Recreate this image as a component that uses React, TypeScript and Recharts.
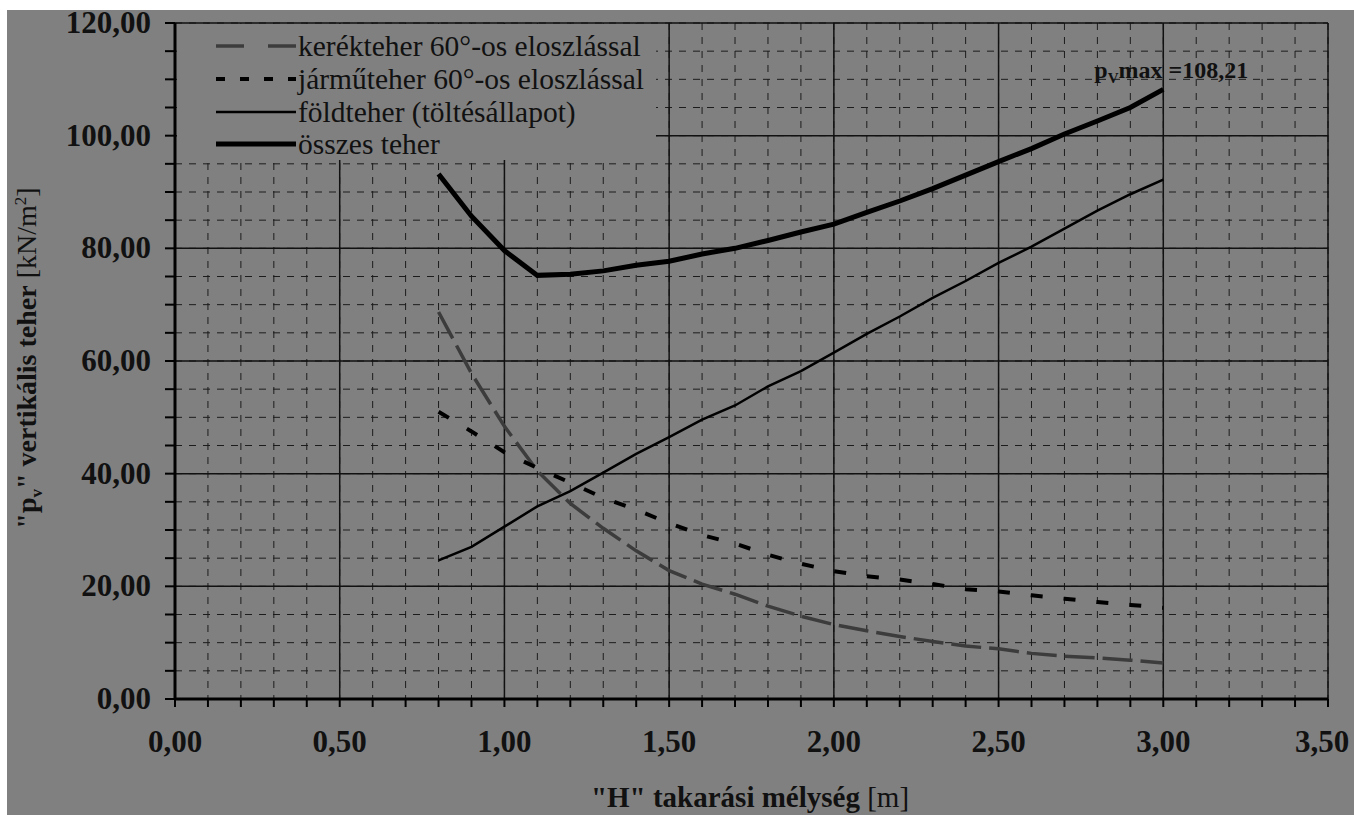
import { CartesianGrid, Legend, Line, LineChart, ReferenceDot, XAxis, YAxis } from "recharts";

const H = [0.8, 0.9, 1.0, 1.1, 1.2, 1.3, 1.4, 1.5, 1.6, 1.7, 1.8, 1.9, 2.0, 2.1, 2.2, 2.3, 2.4, 2.5, 2.6, 2.7, 2.8, 2.9, 3.0];
const KEREK = [68.7, 57.8, 48.4, 40.5, 34.7, 30.3, 26.3, 22.8, 20.4, 18.6, 16.5, 14.7, 13.2, 12.1, 11.1, 10.2, 9.4, 8.9, 8.1, 7.6, 7.3, 6.9, 6.4];
const JARMU = [51.0, 47.5, 43.8, 41.0, 38.4, 35.7, 33.6, 31.2, 29.1, 27.6, 25.6, 24.0, 22.7, 21.8, 21.2, 20.4, 19.5, 19.1, 18.4, 17.8, 17.2, 16.7, 16.2];
const FOLD = [24.6, 27.0, 30.6, 34.2, 36.9, 40.2, 43.5, 46.5, 49.6, 52.1, 55.5, 58.2, 61.5, 64.8, 67.9, 71.2, 74.2, 77.4, 80.3, 83.5, 86.7, 89.6, 92.2];
const OSSZES = [93.2, 85.7, 79.6, 75.2, 75.4, 76.0, 77.0, 77.7, 79.0, 80.0, 81.4, 82.9, 84.3, 86.4, 88.4, 90.6, 93.0, 95.4, 97.7, 100.3, 102.6, 105.0, 108.21];

const X_TICKS = [0, 0.1, 0.2, 0.3, 0.4, 0.5, 0.6, 0.7, 0.8, 0.9, 1.0, 1.1, 1.2, 1.3, 1.4, 1.5, 1.6, 1.7, 1.8, 1.9, 2.0, 2.1, 2.2, 2.3, 2.4, 2.5, 2.6, 2.7, 2.8, 2.9, 3.0, 3.1, 3.2, 3.3, 3.4, 3.5];
const X_MAJOR = [0, 0.5, 1.0, 1.5, 2.0, 2.5, 3.0, 3.5];
const Y_TICKS = [0, 5, 10, 15, 20, 25, 30, 35, 40, 45, 50, 55, 60, 65, 70, 75, 80, 85, 90, 95, 100, 105, 110, 115, 120];
const Y_MAJOR = [0, 20, 40, 60, 80, 100, 120];

const SERIES = [
  { key: "kerek", name: "kerékteher 60°-os eloszlással", color: "#3c3c3c", width: 3.5, dash: "30 8", legendDash: "28 24" },
  { key: "jarmu", name: "járműteher 60°-os eloszlással", color: "#000", width: 4, dash: "12 21", legendDash: "9 15" },
  { key: "fold", name: "földteher (töltésállapot)", color: "#000", width: 2.5, dash: undefined, legendDash: undefined },
  { key: "osszes", name: "összes teher", color: "#000", width: 5, dash: undefined, legendDash: undefined },
];

const rows = H.map((h, i) => ({ h, kerek: KEREK[i], jarmu: JARMU[i], fold: FOLD[i], osszes: OSSZES[i] }));

const FONT = '"Liberation Serif", "Times New Roman", serif';
const BG = "#808080";
const INK = "#111";

const fmt = (v: number) => v.toFixed(2).replace(".", ",");

function XTick({ x, y, payload }: any) {
  const v = payload.value;
  if (Math.abs(v * 2 - Math.round(v * 2)) > 1e-6) return null;
  const shift = v >= 3.5 ? -6 : 0;
  return (
    <text x={x + shift} y={y + 43} textAnchor="middle" fontFamily={FONT} fontWeight="bold" fontSize={31} fill={INK}>
      {fmt(v)}
    </text>
  );
}

function YTick({ x, y, payload }: any) {
  const v = payload.value;
  if (v % 20 !== 0) return null;
  return (
    <text x={x} y={y + 10} textAnchor="end" fontFamily={FONT} fontWeight="bold" fontSize={31} fill={INK}>
      {fmt(v)}
    </text>
  );
}

function LoadLegend() {
  return (
    <div style={{ background: BG, width: 479, height: 136, paddingTop: 6, boxSizing: "border-box" }}>
      {SERIES.map((s) => (
        <div key={s.key} style={{ display: "flex", alignItems: "center", height: 32.7 }}>
          <svg width={80} height={10} style={{ marginLeft: 39, marginRight: 2, flex: "none" }}>
            <line x1={0} y1={5} x2={80} y2={5} stroke={s.color} strokeWidth={s.width} strokeDasharray={s.legendDash} />
          </svg>
          <span style={{ fontFamily: FONT, fontSize: 29.5, lineHeight: "30px", color: INK, whiteSpace: "nowrap" }}>
            {s.name}
          </span>
        </div>
      ))}
    </div>
  );
}

function MaxLabel({ cx, cy }: any) {
  return (
    <text x={cx - 69} y={cy - 11} fontFamily={FONT} fontWeight="bold" fontSize={24} fill={INK}>
      p<tspan fontSize={15} dy={5}>V</tspan>
      <tspan dy={-5}>max =</tspan>
      {fmt(OSSZES[OSSZES.length - 1])}
    </text>
  );
}

export default function App() {
  return (
    <div style={{ position: "absolute", left: 0, top: 0, width: 1354, height: 815, background: "#fff" }}>
      <div style={{ position: "absolute", left: 7, top: 10, right: 0, bottom: 0, background: BG }} />
      <div style={{ position: "absolute", left: 0, top: 0 }}>
        <LineChart width={1354} height={815} data={rows} margin={{ top: 23, right: 26, bottom: 0, left: 0 }}>
          <CartesianGrid
            horizontalValues={Y_TICKS}
            verticalValues={X_TICKS}
            stroke="#1c1c1c"
            strokeWidth={1}
            strokeDasharray="7 7"
          />
          <CartesianGrid horizontalValues={Y_MAJOR} verticalValues={X_MAJOR} stroke="#111" strokeWidth={1.5} />
          <XAxis
            type="number"
            dataKey="h"
            domain={[0, 3.5]}
            ticks={X_TICKS}
            interval={0}
            height={116}
            tickSize={8}
            tickMargin={2}
            axisLine={{ stroke: "#000", strokeWidth: 3 }}
            tickLine={{ stroke: "#000", strokeWidth: 2 }}
            tick={<XTick />}
          />
          <YAxis
            type="number"
            domain={[0, 120]}
            ticks={Y_TICKS}
            interval={0}
            width={175}
            tickSize={10}
            tickMargin={14}
            axisLine={{ stroke: "#000", strokeWidth: 3 }}
            tickLine={{ stroke: "#000", strokeWidth: 2 }}
            tick={<YTick />}
          />
          {SERIES.map((s) => (
            <Line
              key={s.key}
              dataKey={s.key}
              name={s.name}
              type="linear"
              stroke={s.color}
              strokeWidth={s.width}
              strokeDasharray={s.dash}
              dot={false}
              activeDot={false}
              isAnimationActive={false}
            />
          ))}
          <ReferenceDot x={H[H.length - 1]} y={OSSZES[OSSZES.length - 1]} r={0} shape={(p: any) => <MaxLabel {...p} />} />
          <Legend
            layout="vertical"
            align="center"
            verticalAlign="middle"
            content={() => <LoadLegend />}
            wrapperStyle={{ left: 177, top: 24, width: 479, height: 136 }}
          />
        </LineChart>
      </div>
      <div
        style={{
          position: "absolute",
          left: 750,
          top: 797,
          transform: "translate(-50%, -50%)",
          whiteSpace: "nowrap",
          fontFamily: FONT,
          fontSize: 29,
          color: INK,
        }}
      >
        <b>"H" takarási mélység</b> [m]
      </div>
      <div
        style={{
          position: "absolute",
          left: 29,
          top: 358,
          transform: "translate(-50%, -50%) rotate(-90deg)",
          whiteSpace: "nowrap",
          fontFamily: FONT,
          fontSize: 28,
          color: INK,
        }}
      >
        <b>
          "p<sub style={{ fontSize: 17 }}>v</sub>" vertikális teher
        </b>{" "}
        [kN/m<sup style={{ fontSize: 17 }}>2</sup>]
      </div>
    </div>
  );
}
